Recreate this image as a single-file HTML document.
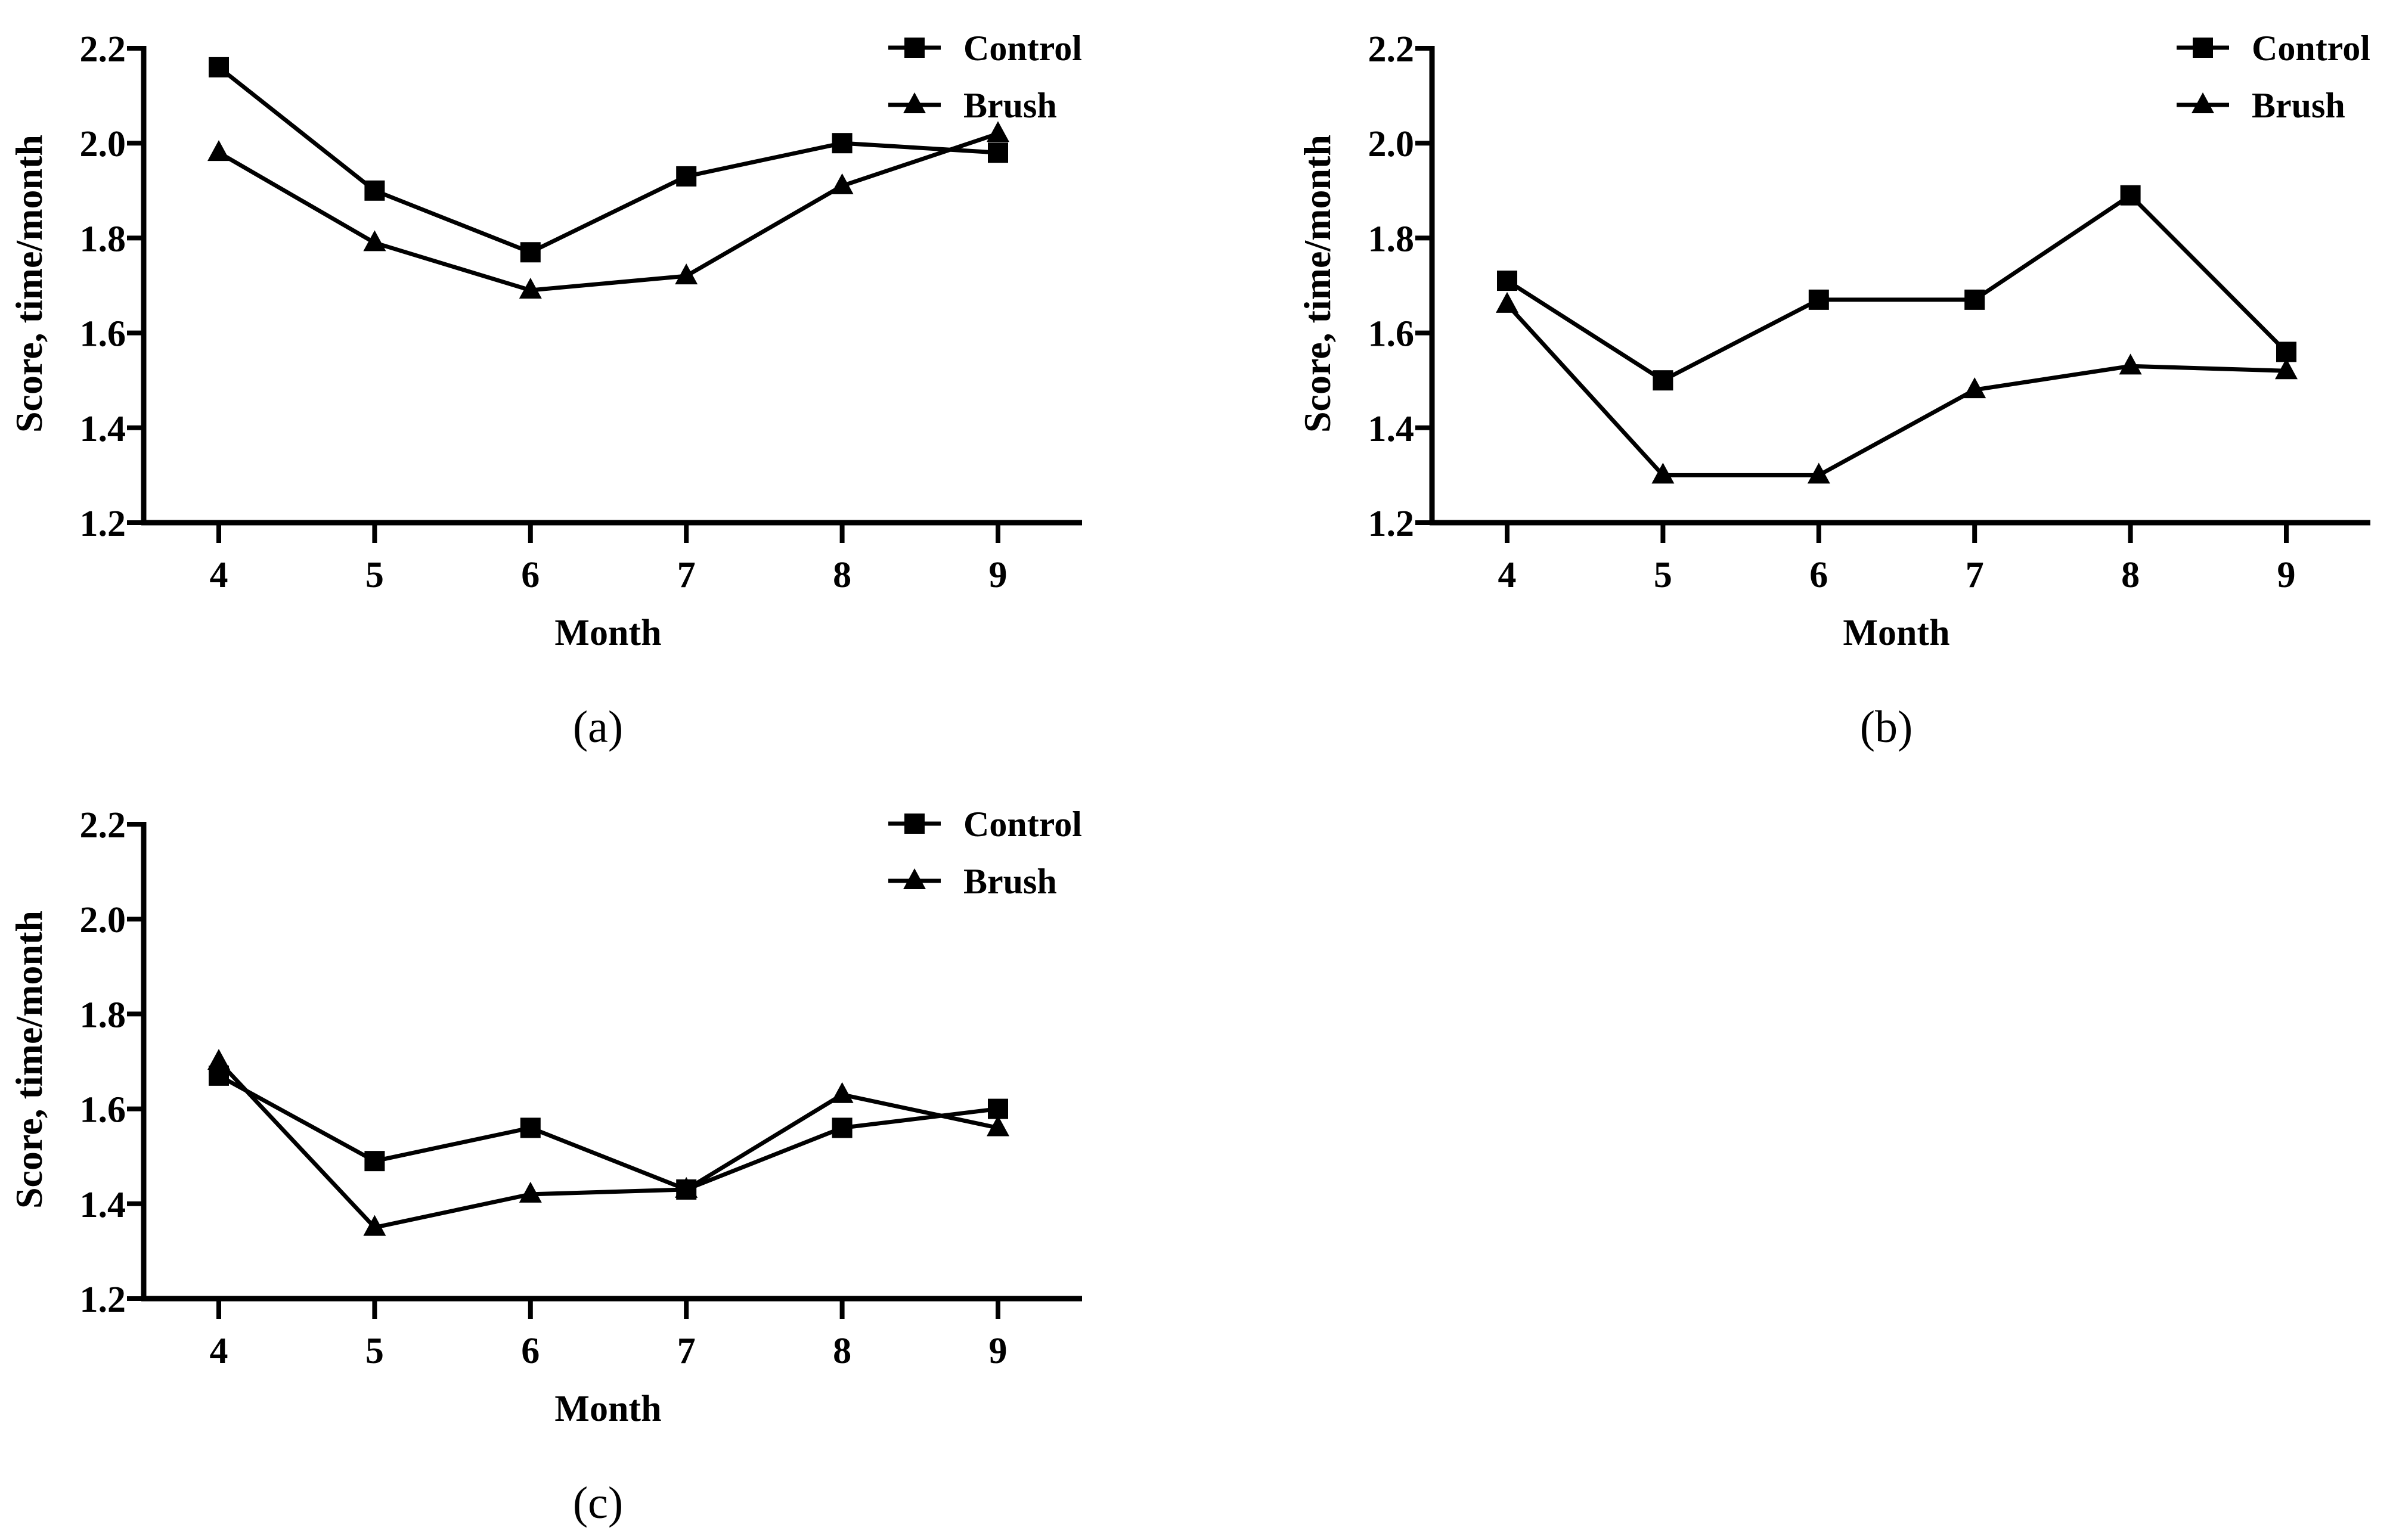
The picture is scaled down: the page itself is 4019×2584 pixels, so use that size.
<!DOCTYPE html>
<html><head><meta charset="utf-8"><style>
body{margin:0;background:#fff}
svg text{font-family:"Liberation Serif",serif;fill:#000}
</style></head><body>
<svg id="fig" width="4019" height="2579" viewBox="0 0 4019 2579" xmlns="http://www.w3.org/2000/svg"></svg>
<script>
const months=[4,5,6,7,8,9];
const yTicks=[1.2,1.4,1.6,1.8,2.0,2.2];
const yTickLabels=["1.2","1.4","1.6","1.8","2.0","2.2"];
const aControl=[2.16,1.90,1.77,1.93,2.00,1.98];
const aBrush=[1.98,1.79,1.69,1.72,1.91,2.02];
const bControl=[1.71,1.50,1.67,1.67,1.89,1.56];
const bBrush=[1.66,1.30,1.30,1.48,1.53,1.52];
const cControl=[1.67,1.49,1.56,1.43,1.56,1.60];
const cBrush=[1.70,1.35,1.42,1.43,1.63,1.56];
const panels=[{id:"a",ox:0,oy:0,c:aControl,b:aBrush},{id:"b",ox:2161,oy:0,c:bControl,b:bBrush},{id:"c",ox:0,oy:1302,c:cControl,b:cBrush}];
const svg=document.getElementById('fig');
const NS="http://www.w3.org/2000/svg";
function mk(t,a,p){const e=document.createElementNS(NS,t);for(const k in a)e.setAttribute(k,a[k]);(p||svg).appendChild(e);return e;}
panels.forEach(P=>{
  const g=mk('g',{transform:`translate(${P.ox},${P.oy})`});
  
  
  const X0=241,X1=1815,Y0=877,Y1=81;
  const xs=m=>367+(m-4)*(1674-367)/5;
  const ys=v=>Y0-(v-1.2)/(1.0)*(Y0-Y1);
  const ya=mk('line',{x1:X0,y1:Y1-4,x2:X0,y2:Y0+4,stroke:'#000','stroke-width':9},g);
  
  const xa=mk('line',{x1:X0-4,y1:Y0,x2:X1,y2:Y0,stroke:'#000','stroke-width':9},g);
  
  yTicks.forEach((v,i)=>{
    mk('line',{x1:X0-28,y1:ys(v),x2:X0,y2:ys(v),stroke:'#000','stroke-width':8},g);
    const t=mk('text',{x:X0-30,y:ys(v)+22,'text-anchor':'end','font-size':62,'font-weight':'bold'},g);
    t.textContent=yTickLabels[i];
    
  });
  months.forEach(m=>{
    mk('line',{x1:xs(m),y1:Y0,x2:xs(m),y2:Y0+34,stroke:'#000','stroke-width':8},g);
    const t=mk('text',{x:xs(m),y:985,'text-anchor':'middle','font-size':62,'font-weight':'bold'},g);
    t.textContent=m;
    
  });
  const xt=mk('text',{x:1020,y:1082,'text-anchor':'middle','font-size':62,'font-weight':'bold'},g);
  xt.textContent='Month';
  
  const yt=mk('text',{transform:'translate(70,476) rotate(-90)','text-anchor':'middle','font-size':64,'font-weight':'bold'},g);
  yt.textContent='Score, time/month';
  
  const cap=mk('text',{x:1003,y:1245,'text-anchor':'middle','font-size':76},g);
  cap.textContent='('+P.id+')';
  
  const sq=(x,y)=>mk('rect',{x:x-17,y:y-17,width:34,height:34,fill:'#000'},g);
  const tri=(x,y)=>mk('polygon',{points:`${x},${y-21} ${x+19},${y+14} ${x-19},${y+14}`,fill:'#000'},g);
  [[P.c,sq,'control'],[P.b,tri,'brush']].forEach(([vals,mf,nm])=>{
    const l=mk('polyline',{points:vals.map((v,i)=>xs(months[i])+','+ys(v)).join(' '),fill:'none',stroke:'#000','stroke-width':7},g);
    
    vals.forEach((v,i)=>{const m=mf(xs(months[i]),ys(v));
      });
  });
  [['Control',80,sq],['Brush',176,tri]].forEach(([lab,y,mf])=>{
    mk('line',{x1:1490,y1:y,x2:1578,y2:y,stroke:'#000','stroke-width':7},g);
    mf(1534,y);
    const t=mk('text',{x:1616,y:y+21,'font-size':60,'font-weight':'bold'},g);
    t.textContent=lab;
    
  });
});
</script>
</body></html>
